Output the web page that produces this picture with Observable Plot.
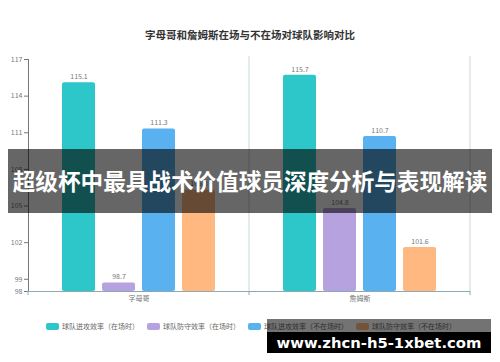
<!DOCTYPE html>
<html>
<head>
<meta charset="utf-8">
<script src="https://cdn.jsdelivr.net/npm/d3@7"></script>
<script src="https://cdn.jsdelivr.net/npm/@observablehq/plot@0.6"></script>
<style>
  html, body { margin: 0; padding: 0; background: #fff; }
  #wrap { position: relative; width: 500px; height: 362px; overflow: hidden; font-family: "Noto Sans CJK SC", sans-serif; }
  #title { position: absolute; left: 0; width: 500px; top: 27px; text-align: center; font-size: 10.5px; font-weight: bold; color: #333; }
  #legend { position: absolute; left: 46px; top: 321px; display: flex; gap: 8px; font-size: 7px; color: #666; align-items: center; }
  #legend .item { display: flex; align-items: center; gap: 3px; }
  #legend .sw { width: 13px; height: 7px; border-radius: 2px; display: inline-block; }
  #banner { position: absolute; left: 8px; top: 149px; width: 484px; height: 64px; background: rgba(0,0,0,0.6); color: #fff; font-weight: bold; font-size: 22.6px; line-height: 64px; text-align: center; white-space: nowrap; }
  #wmband { position: absolute; left: 267px; top: 319px; width: 224px; height: 13px; background: rgba(0,0,0,0.55); }
  #wm { position: absolute; left: 267px; top: 332px; width: 224px; height: 21px; background: #000; color: #fff; font-family: "DejaVu Sans", sans-serif; font-weight: bold; font-size: 14.8px; line-height: 21px; text-align: center; white-space: nowrap; }
</style>
</head>
<body>
<div id="wrap">
  <div id="chart"></div>
  <div id="title"></div>
  <div id="legend"></div>
  <div id="banner"></div>
  <div id="wmband"></div>
  <div id="wm"></div>
</div>
<script>
const chartTitle = "字母哥和詹姆斯在场与不在场对球队影响对比";
const players = ["字母哥", "詹姆斯"];
const metrics = ["球队进攻效率（在场时）", "球队防守效率（在场时）", "球队进攻效率（不在场时）", "球队防守效率（不在场时）"];
const giannisValues = [115.1, 98.7, 111.3, 106.3];
const jamesValues = [115.7, 104.8, 110.7, 101.6];
const colors = ["#2ec7c9", "#b6a2de", "#5ab1ef", "#ffb980"];
const yMin = 98, yMax = 117;
const yTicks = [98, 99, 102, 105, 108, 111, 114, 117];
const bannerText = "超级杯中最具战术价值球员深度分析与表现解读";
const watermarkText = "www.zhcn-h5-1xbet.com";

const rows = [];
[giannisValues, jamesValues].forEach((vals, i) => {
  vals.forEach((v, j) => rows.push({player: players[i], metric: metrics[j], value: v}));
});

const axisColor = "#8aa9b0";

const chart = Plot.plot({
  width: 500,
  height: 362,
  marginTop: 59,
  marginBottom: 71,
  marginLeft: 27,
  marginRight: 30,
  style: {fontFamily: "Noto Sans CJK SC, sans-serif", fontSize: "7px", color: "#777", background: "transparent"},
  facet: {data: rows, x: "player"},
  fx: {domain: players, padding: 0, label: null, axis: "bottom", tickSize: 0, tickPadding: 5},
  x: {domain: metrics, paddingInner: 0.175, paddingOuter: 0.85, axis: null},
  y: {domain: [yMin, yMax], ticks: yTicks, tickSize: 4, tickPadding: 2, label: null, line: true},
  color: {domain: metrics, range: colors},
  marks: [
    Plot.barY(rows, {x: "metric", y1: () => yMin, y2: "value", fill: "metric", rx: 2}),
    Plot.text(rows, {x: "metric", y: "value", text: d => d.value.toFixed(1), dy: -6, fill: "#777", fontSize: 7}),
    Plot.ruleY([yMin], {stroke: axisColor, strokeWidth: 1})
  ]
});

document.getElementById("chart").appendChild(chart);

// facet boundaries from the fx scale: separator lines and x ticks
const fx = chart.scale("fx");
const yS = chart.scale("y");
const bounds = players.map(p => fx.apply(p)).concat([fx.apply(players[players.length - 1]) + fx.bandwidth]);
const svg = d3.select(chart);
const yTop = yS.apply(yMax), yBot = yS.apply(yMin);
bounds.forEach((b, i) => {
  if (i > 0) {
    svg.append("line").attr("x1", b).attr("x2", b).attr("y1", yTop - 3).attr("y2", yBot)
      .attr("stroke", "#c9d6dc").attr("stroke-width", 1);
  }
  svg.append("line").attr("x1", b).attr("x2", b).attr("y1", yBot).attr("y2", yBot + 4)
    .attr("stroke", axisColor).attr("stroke-width", 1);
});

document.getElementById("title").textContent = chartTitle;
const legend = d3.select("#legend");
metrics.forEach((m, i) => {
  const it = legend.append("div").attr("class", "item");
  it.append("span").attr("class", "sw").style("background", colors[i]);
  it.append("span").text(m);
});
document.getElementById("banner").textContent = bannerText;
document.getElementById("wm").textContent = watermarkText;
</script>
</body>
</html>
